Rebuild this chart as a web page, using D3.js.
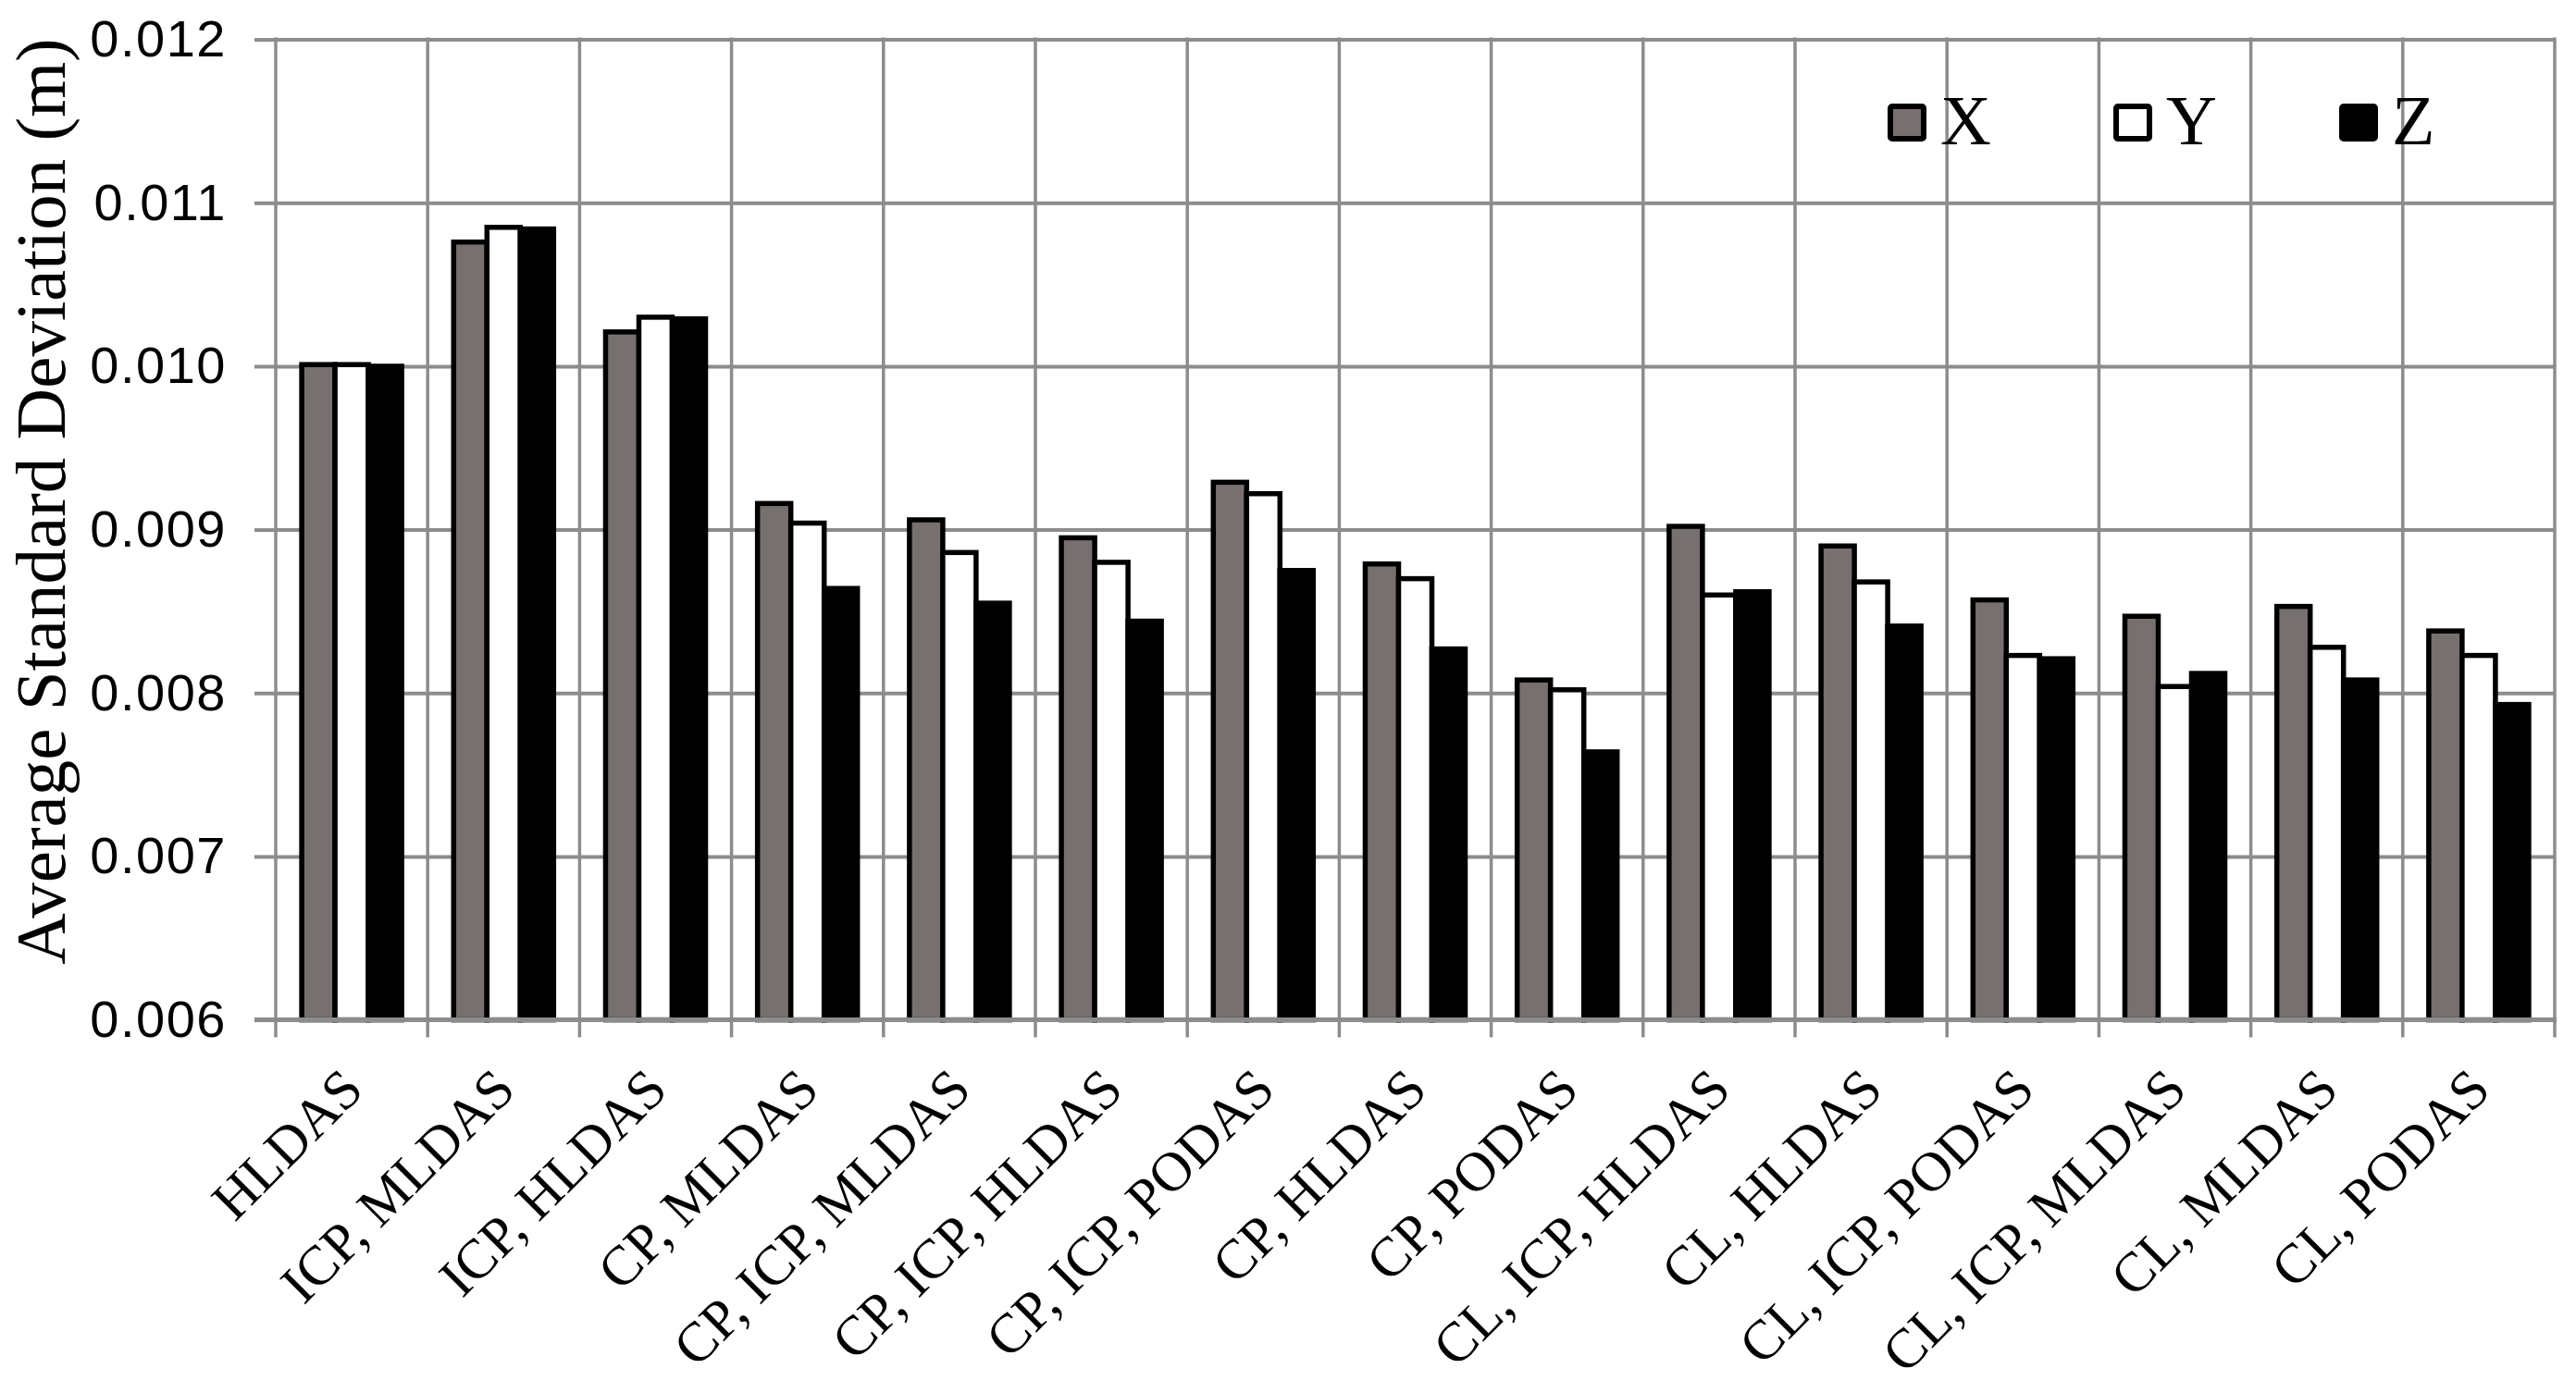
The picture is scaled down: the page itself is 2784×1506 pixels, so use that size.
<!DOCTYPE html>
<html><head><meta charset="utf-8">
<script src="https://cdn.jsdelivr.net/npm/d3@7"></script>
<style>html,body{margin:0;padding:0;background:#fff;} svg{display:block;background:#fff;}</style>
</head><body><svg id="chart" width="2784" height="1506"></svg>
<script>
const categories = ["HLDAS","ICP, MLDAS","ICP, HLDAS","CP, MLDAS","CP, ICP, MLDAS","CP, ICP, HLDAS","CP, ICP, PODAS","CP, HLDAS","CP, PODAS","CL, ICP, HLDAS","CL, HLDAS","CL, ICP, PODAS","CL, ICP, MLDAS","CL, MLDAS","CL, PODAS"];
const seriesNames = ["X","Y","Z"];
const xValues = [0.01001,0.01076,0.01021,0.00916,0.00906,0.00895,0.00929,0.00879,0.00808,0.00902,0.00890,0.00857,0.00847,0.00853,0.00838];
const yValues = [0.01001,0.01085,0.01030,0.00904,0.00886,0.00880,0.00922,0.00870,0.00802,0.00860,0.00868,0.00823,0.00804,0.00828,0.00823];
const zValues = [0.01000,0.01084,0.01029,0.00864,0.00855,0.00844,0.00875,0.00827,0.00764,0.00862,0.00841,0.00821,0.00812,0.00808,0.00793];
const yTicks = [0.006,0.007,0.008,0.009,0.010,0.011,0.012];
const yTickLabels = ["0.006","0.007","0.008","0.009","0.010","0.011","0.012"];
const yTitle = "Average Standard Deviation (m)";

const seriesValues = [xValues, yValues, zValues];
const fills = ["#76716f", "#ffffff", "#000000"];
const gridColor = "#8c8c8c";

const svg = d3.select("#chart");
const L = 298, R = 2761, T = 42.6, B = 1102.6;

const y = d3.scaleLinear().domain([0.006, 0.012]).range([B, T]);
const x0 = d3.scaleBand().domain(categories).range([L, R]).padding(0);
const bw = x0.bandwidth();
const x1 = d3.scaleBand().domain(seriesNames).range([bw * 0.171, bw * 0.829]).padding(0);

// horizontal gridlines
const gy = svg.append("g").attr("transform", `translate(${L},0)`)
  .call(d3.axisLeft(y).tickValues(yTicks).tickSize(-(R - L)).tickFormat(""));
gy.select(".domain").remove();
gy.selectAll(".tick line").attr("stroke", gridColor).attr("stroke-width", 4);

// vertical gridlines at category boundaries (extend below as ticks)
const bounds = categories.map(c => x0(c)).concat([R]);
svg.append("g").selectAll("line").data(bounds).join("line")
  .attr("x1", d => d).attr("x2", d => d)
  .attr("y1", T - 2).attr("y2", B + 19)
  .attr("stroke", gridColor).attr("stroke-width", 3.5);

// y axis with labels and outer ticks
const ya = svg.append("g").attr("transform", `translate(${L},0)`)
  .call(d3.axisLeft(y).tickValues(yTicks).tickSize(23).tickPadding(30)
    .tickFormat((d, i) => yTickLabels[i]));
ya.select(".domain").remove();
ya.selectAll(".tick line").attr("stroke", gridColor).attr("stroke-width", 4);
ya.selectAll(".tick text").attr("fill", "#000")
  .style("font-family", "'Liberation Sans', Arial, sans-serif")
  .style("font-size", "56px")
  .style("letter-spacing", "1.5px");

// bars
const groups = svg.append("g").selectAll("g").data(categories).join("g")
  .attr("transform", d => `translate(${x0(d)},0)`);
groups.selectAll("rect")
  .data((c, i) => seriesNames.map((s, j) => ({s, j, v: seriesValues[j][i]})))
  .join("rect")
  .attr("x", d => x1(d.s))
  .attr("width", x1.bandwidth())
  .attr("y", d => y(d.v))
  .attr("height", d => B - y(d.v))
  .attr("fill", d => fills[d.j])
  .attr("stroke", "#000")
  .attr("stroke-width", 5.5);

// x axis baseline
svg.append("line").attr("x1", L - 23).attr("x2", R + 2).attr("y1", B).attr("y2", B)
  .attr("stroke", gridColor).attr("stroke-width", 5);

// x labels
const xa = svg.append("g").attr("transform", `translate(0,${B})`)
  .call(d3.axisBottom(x0).tickSize(0).tickPadding(0));
xa.select(".domain").remove();
xa.selectAll(".tick text")
  .attr("text-anchor", "end")
  .attr("dy", 0)
  .attr("y", 0)
  .attr("transform", "translate(15,78) rotate(-45)")
  .attr("fill", "#000")
  .style("font-family", "'Liberation Serif', 'Times New Roman', serif")
  .style("font-size", "60px");

// y title
svg.append("text")
  .attr("transform", `translate(70,${542}) rotate(-90)`)
  .attr("text-anchor", "middle")
  .attr("fill", "#000")
  .style("font-family", "'Liberation Serif', 'Times New Roman', serif")
  .style("font-size", "77px")
  .text(yTitle);

// legend
const lg = svg.append("g").selectAll("g").data(seriesNames).join("g")
  .attr("transform", (d, i) => `translate(${2043 + i * 244},115)`);
lg.append("rect").attr("width", 36).attr("height", 35).attr("rx", 2)
  .attr("fill", (d, i) => fills[i]).attr("stroke", "#000").attr("stroke-width", 6);
lg.append("text").attr("x", 54).attr("y", 41)
  .attr("fill", "#000")
  .style("font-family", "'Liberation Serif', 'Times New Roman', serif")
  .style("font-size", "76px")
  .text(d => d);
</script>
</body></html>
